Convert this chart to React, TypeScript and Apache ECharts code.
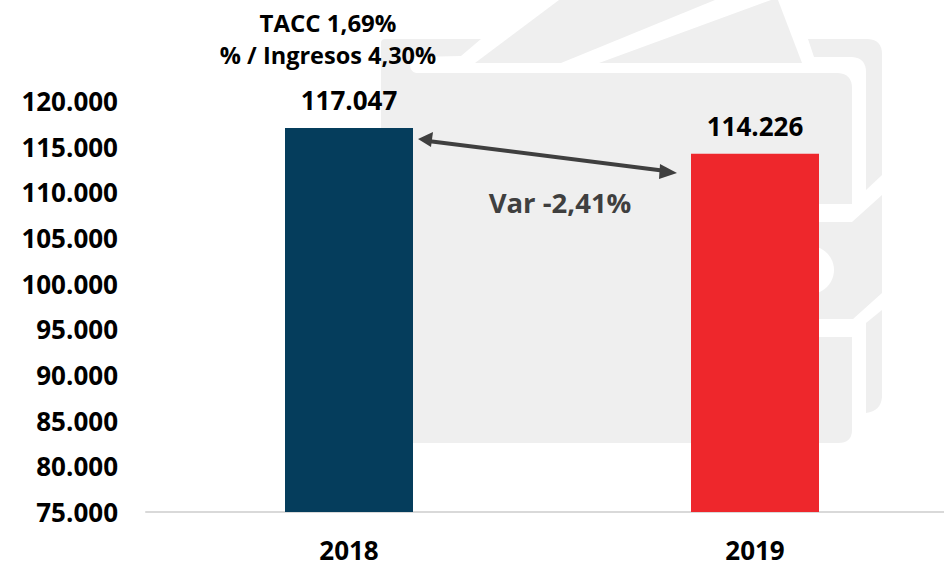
import React, { useEffect, useRef } from "react";
import * as echarts from "echarts";

const categories = ["2018", "2019"];
const values = [117047, 114226];
const barColors = ["#053D5C", "#EE272C"];
const axisMin = 75000;
const axisMax = 120000;
const axisStep = 5000;
const noteLines = ["TACC 1,69%", "% / Ingresos 4,30%"];
const varianceLabel = "Var -2,41%";

const FONT = '"Open Sans", sans-serif';
const fmt = (v: number) => String(v).replace(/\B(?=(\d{3})+$)/g, ".");

const bodyPath =
  "M385 39 L481 39 L461 56 L416 57 Q410 58 410 64 Q410 72 416 73 L838 73 Q852 74 852 88 L852 204 L700 204 L700 337 L852 337 L852 430 Q852 443 838 443 L395 443 Q381 443 381 430 L381 43 Q381 39 385 39 Z";
const midPath = "M700 222 L852 222 L882 195 L882 293 L853 319 L700 319 Z";
const leftFill = "M381 200 L760 200 L760 350 L381 350 Z";
const topRightPath =
  "M808 39 L868 39 Q882 40 882 54 L882 175 L866 190 L866 72 Q866 58 852 57 L814 57 Z";
const bottomRightPath = "M866 323 L882 310 L882 397 Q881 411 866 413 Z";
const noteAPath = "M475 63 L559 0 L715 0 L561 63 Z";
const noteBPath = "M599 63 L771 0 L778 0 L802 63 Z";
const bandPath = "M760 204 L852 204 L852 222 L760 222 Z M760 319 L852 319 L852 337 L760 337 Z";

const paths: Record<string, string> = {
  wmBody: bodyPath,
  wmMid: midPath,
  wmFill: leftFill,
  wmTopRight: topRightPath,
  wmBottomRight: bottomRightPath,
  wmNoteA: noteAPath,
  wmNoteB: noteBPath,
  wmBand: bandPath,
};
Object.keys(paths).forEach((k) => {
  echarts.graphic.registerShape(k, echarts.graphic.extendPath(paths[k], {}) as any);
});

export default function App() {
  const ref = useRef<HTMLDivElement>(null);
  useEffect(() => {
    document.body.style.margin = "0";
    const chart = echarts.init(ref.current!, undefined, { renderer: "svg" });
    const gray = "#EFEFEF";
    const arrow = "#3F3F3F";
    const wm = (type: string, fill: string) => ({ type, x: 0, y: 0, z: 0, silent: true, style: { fill } });
    chart.setOption({
      animation: false,
      backgroundColor: "#fff",
      grid: { left: 146, top: 101, width: 812, height: 411, containLabel: false, outerBoundsMode: "none" },
      xAxis: {
        type: "category",
        data: categories,
        axisLine: { lineStyle: { color: "#D9D9D9", width: 2 } },
        axisTick: { show: false },
        axisLabel: { color: "#000", fontFamily: FONT, fontWeight: 700, fontSize: 26, lineHeight: 20, margin: 28 },
      },
      yAxis: {
        type: "value",
        min: axisMin,
        max: axisMax,
        interval: axisStep,
        axisLine: { show: false },
        axisTick: { show: false },
        splitLine: { show: false },
        axisLabel: {
          color: "#000",
          fontFamily: FONT,
          fontWeight: 700,
          fontSize: 26,
          margin: 28,
          formatter: (v: number) => fmt(v),
        },
      },
      series: [
        {
          type: "bar",
          z: 5,
          barWidth: 128,
          data: values.map((value, i) => ({ value, itemStyle: { color: barColors[i] } })),
          label: {
            show: true,
            position: "top",
            distance: 15,
            color: "#000",
            fontFamily: FONT,
            fontWeight: 700,
            fontSize: 26,
            formatter: (p: any) => fmt(p.value),
          },
        },
      ],
      graphic: [
        wm("wmBody", gray),
        wm("wmFill", gray),
        wm("wmBand", "#fff"),
        wm("wmMid", gray),
        { type: "circle", z: 1, silent: true, shape: { cx: 810, cy: 270, r: 24 }, style: { fill: "#fff" } },
        wm("wmTopRight", gray),
        wm("wmBottomRight", gray),
        wm("wmNoteA", gray),
        wm("wmNoteB", gray),
        {
          type: "text", z: 10, x: 328, y: 22,
          style: { text: noteLines[0], fill: "#000", font: `700 24px ${FONT}`, align: "center", verticalAlign: "middle" },
        },
        {
          type: "text", z: 10, x: 328, y: 55,
          style: { text: noteLines[1], fill: "#000", font: `700 23.5px ${FONT}`, align: "center", verticalAlign: "middle" },
        },
        {
          type: "text", z: 10, x: 560, y: 202,
          style: { text: varianceLabel, fill: arrow, font: `700 27.5px ${FONT}`, align: "center", verticalAlign: "middle" },
        },
        {
          type: "line", z: 10,
          shape: { x1: 428, y1: 141, x2: 666, y2: 171 },
          style: { stroke: arrow, lineWidth: 4 },
        },
        {
          type: "polygon", z: 10,
          shape: { points: [[418, 139], [433, 132], [431, 147]] },
          style: { fill: arrow },
        },
        {
          type: "polygon", z: 10,
          shape: { points: [[677, 173], [660, 164], [659, 179]] },
          style: { fill: arrow },
        },
      ],
    });
    return () => chart.dispose();
  }, []);
  return <div ref={ref} style={{ width: 944, height: 561 }} />;
}
